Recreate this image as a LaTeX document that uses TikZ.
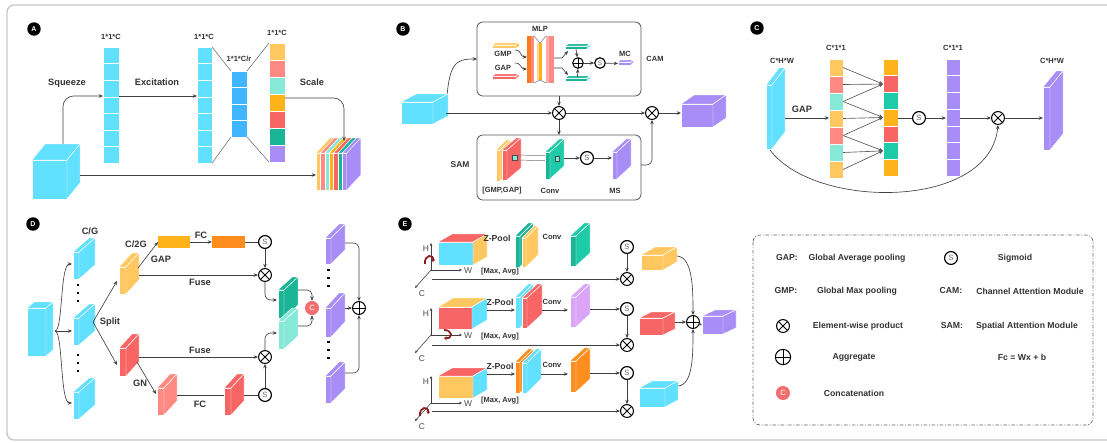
\documentclass[tikz,border=0pt]{standalone}
\usepackage{fontspec}
\setmainfont{Liberation Sans}
\usetikzlibrary{arrows.meta,calc}
\definecolor{xcy}{HTML}{62E0FF}
\definecolor{xbl}{HTML}{3FB6FF}
\definecolor{xlo}{HTML}{FFC75F}
\definecolor{xsa}{HTML}{FF8A84}
\definecolor{xmi}{HTML}{86E9D8}
\definecolor{xor}{HTML}{FFB31A}
\definecolor{xre}{HTML}{F76565}
\definecolor{xte}{HTML}{19B596}
\definecolor{xtm}{HTML}{1DCBA9}
\definecolor{xla}{HTML}{A88DF6}
\definecolor{xdor}{HTML}{FF8E1E}
\definecolor{xpu}{HTML}{DAA5F7}
\definecolor{xdr}{HTML}{8E1B1B}
\definecolor{xcc}{HTML}{F26F6F}
\definecolor{xtxt}{HTML}{333333}
\definecolor{xframe}{HTML}{C8C8C8}
\newcommand{\mycube}[9]{%
  \fill[fill=#7,draw=white,line width=0.4pt] (#2,#3) rectangle ++(#4,#5);
  \fill[fill=#8,draw=white,line width=0.4pt] (#2,#3) -- ++(#6) -- ++(#4,0) -- (#2+#4,#3) -- cycle;
  \fill[fill=#9,draw=white,line width=0.4pt] (#2+#4,#3) -- ++(#6) -- ++(0,#5) -- (#2+#4,#3+#5) -- cycle;
  \coordinate (#1-l) at (#2,#3+#5/2);
  \coordinate (#1-r) at ($(#2+#4,#3+#5/2)+0.5*(#6)$);
  \coordinate (#1-t) at ($(#2+#4/2,#3)+0.5*(#6)$);
  \coordinate (#1-b) at (#2+#4/2,#3+#5);
}
\newcommand{\colstack}[7]{%
  \foreach \cl [count=\i] in {#7} {
    \fill[fill=\cl,draw=white,line width=0.5pt] (#2,#3+\i*#5-#5) rectangle ++(#4,#5);
    \coordinate (#1-\i-l) at (#2,#3+\i*#5-#5/2);
    \coordinate (#1-\i-r) at (#2+#4,#3+\i*#5-#5/2);
  }
  \coordinate (#1-l) at (#2,#3+#6*#5/2);
  \coordinate (#1-r) at (#2+#4,#3+#6*#5/2);
  \coordinate (#1-tl) at (#2,#3);
  \coordinate (#1-tr) at (#2+#4,#3);
  \coordinate (#1-bl) at (#2,#3+#6*#5);
  \coordinate (#1-br) at (#2+#4,#3+#6*#5);
}
\tikzset{
  tA/.style={font=\bfseries\fontsize{7.9}{8.5}\selectfont, text=xtxt, inner sep=0},
  tS/.style={font=\bfseries\fontsize{6.4}{7}\selectfont, text=xtxt, inner sep=0},
  tE/.style={font=\bfseries\fontsize{7.4}{8}\selectfont, text=xtxt, inner sep=0},
  tX/.style={font=\fontsize{7.2}{8}\selectfont, text=black!70, inner sep=0},
  lab/.style={circle, fill=black, text=white, font=\bfseries\fontsize{6}{7}\selectfont, minimum size=11.5pt, inner sep=0},
  arr/.style={draw=black!75, line width=0.55pt, -{Stealth[length=3.6pt,width=3pt]}},
  ln/.style={draw=black!75, line width=0.55pt},
  gl/.style={draw=black!55, line width=0.5pt},
  ax/.style={draw=black!75, line width=0.5pt, -{Stealth[length=2.6pt,width=2.3pt]}},
  rot/.style={draw=xdr, line width=1.5pt, -{Stealth[length=2.4pt,width=3.4pt]}},
  sig/.style={circle, draw=black, line width=1pt, fill=white, minimum size=11pt, inner sep=0, font=\fontsize{6.5}{7}\selectfont, text=black!60},
  tim/.style={circle, draw=black, line width=0.9pt, fill=white, minimum size=11pt, inner sep=0,
    path picture={\draw[line width=0.8pt] (path picture bounding box.north west) -- (path picture bounding box.south east)
      (path picture bounding box.south west) -- (path picture bounding box.north east);}},
  agg/.style={circle, draw=black, line width=0.9pt, fill=white, minimum size=11pt, inner sep=0,
    path picture={\draw[line width=0.8pt] (path picture bounding box.north) -- (path picture bounding box.south)
      (path picture bounding box.west) -- (path picture bounding box.east);}},
  cat/.style={circle, fill=xcc, text=white, minimum size=12pt, inner sep=0, font=\fontsize{6.5}{7}\selectfont},
  modbox/.style={draw=black!65, line width=0.7pt, rounded corners=5pt},
}
\begin{document}
\begin{tikzpicture}[x=0.03cm,y=-0.03cm]
\useasboundingbox (0,0) rectangle (1107,442);
\fill[white] (0,0) rectangle (1107,442);
\draw[xframe, line width=1.2pt, rounded corners=6pt] (1110,5) -- (7,5) -- (7,440) -- (1110,440);

% ================= Panel A =================
\node[lab] (labA) at (34,29) {A};
\coordinate (sqs) at (63,146);
\draw[arr, rounded corners=9pt] (sqs) |- (103,96) coordinate (a1in);
\mycube{cubeA}{32}{160}{35}{39}{13,-16}{xcy}{xcy}{xcy}
\colstack{a1}{103}{47}{16}{16.6}{7}{xcy,xcy,xcy,xcy,xcy,xcy,xcy}
\colstack{a2}{197}{47}{15}{16.6}{7}{xcy,xcy,xcy,xcy,xcy,xcy,xcy}
\colstack{a3}{231}{71}{16}{16.5}{4}{xbl,xbl,xbl,xbl}
\colstack{a4}{269}{43}{16}{17}{7}{xlo,xsa,xmi,xor,xre,xte,xla}
\draw[gl] (a2-tr) -- (a3-tl) (a2-br) -- (a3-bl) (a3-tr) -- (a4-tl) (a3-br) -- (a4-bl);
\draw[arr] (a1-r |- a1in) -- (a2-l |- a1in);
% striped output cube
\foreach \cl [count=\i from 0] in {xlo,xsa,xmi,xor,xre,xte,xla} {
  \fill[fill=\cl,draw=white,line width=0.3pt] (316+\i*4.4,153) rectangle ++(4.4,37);
  \fill[fill=\cl,draw=white,line width=0.3pt] (316+\i*4.4,153) -- ++(14,-15) -- ++(4.4,0) -- ++(-14,15) -- cycle;
}
\fill[fill=xla,draw=white,line width=0.3pt] (346.8,153) -- ++(14,-15) -- ++(0,37) -- ++(-14,15) -- cycle;
\coordinate (outA-l) at (316,175);
\coordinate (outA-t) at (344,141);
\coordinate (cubeA-e) at (80,175);
\draw[arr, rounded corners=9pt] (a4-r |- 0,98) -| (outA-t);
\draw[arr] (cubeA-e) -- (outA-l);
\node[tS] at (111,37) {1*1*C};
\node[tS] at (204,37) {1*1*C};
\node[tS] at (277,33) {1*1*C};
\node[tS] at (239,59) {1*1*C/r};
\node[tA] at (67,83) {Squeeze};
\node[tA] at (157,82) {Excitation};
\node[tA] at (312,82) {Scale};

% ================= Panel B =================
\node[lab] (labB) at (403,29) {B};
\draw[modbox] (477,22) rectangle (641,96);
\draw[modbox] (477,135) rectangle (641,200);
\coordinate (cam-w) at (477,59);
\coordinate (cam-s) at (559,96);
\coordinate (sam-n) at (559,135);
\coordinate (sam-e) at (641,165);
\coordinate (inB-e) at (446,113);
\draw[arr] (inB-e) .. controls (448,62) and (455,59) .. (cam-w);
\mycube{cubeB}{401}{102}{32}{22}{15,-8}{xcy}{xcy}{xcy}
\mycube{outB}{681}{104}{32}{23}{13,-9}{xla}{xla}{xla}
\node[tim] (tB1) at (559,113) {};
\node[tim] (tB2) at (652,113) {};
\draw[arr] (inB-e) -- (tB1);
\draw[arr] (cam-s) -- (tB1);
\draw[arr] (tB1) -- (sam-n);
\draw[arr] (tB1) -- (tB2);
\draw[arr] (tB2) -- (outB-l |- tB2);
\draw[arr, rounded corners=5pt] (sam-e) -| (tB2);
% CAM inside
\mycube{gmpB}{492}{45}{24}{3}{3,-2}{xlo}{xlo}{xor}
\mycube{gapB}{492}{76}{24}{3}{3,-2}{xre}{xre}{xsa}
\node[tS] (gmpT) at (503,54) {GMP};
\node[tS] (gapT) at (503,68) {GAP};
\draw[arr] (515,50) .. controls (522,50) and (520,57) .. (527,57);
\draw[arr] (515,63) .. controls (522,63) and (520,69) .. (527,69);
\fill[xdor!85!red] (527,36) rectangle (531,83);
\fill[xsa] (531,36) rectangle (534,83);
\fill[xlo!70!white] (537,43) rectangle (539,80);
\fill[xor] (539,43) rectangle (542,80);
\fill[xsa!70!white] (546,36) rectangle (549,83);
\fill[xsa] (549,36) rectangle (554,83);
\draw[gl, line width=0.4pt] (534,36) -- (540,43) -- (546,36) (534,83) -- (540,80) -- (546,83);
\node[tS] at (540,29) {MLP};
\mycube{tcB1}{565}{46}{22}{3}{3,-2}{xte}{xte}{xmi}
\mycube{tcB2}{565}{78}{22}{3}{3,-2}{xte}{xte}{xmi}
\draw[arr] (554,58) -- (562,58) -- (568,51);
\draw[arr] (554,68) -- (562,68) -- (568,75);
\node[agg, minimum size=9pt] (aB) at (578,63) {};
\node[sig, minimum size=9pt, font=\fontsize{5.5}{6}\selectfont] (sB1) at (600,63) {S};
\draw[arr] (tcB1-b) -- (aB);
\draw[arr] (tcB2-t) -- (aB);
\draw[arr] (aB) -- (sB1);
\mycube{mcB}{618}{62}{13}{3}{2,-2}{xla}{xla}{xla}
\draw[arr] (sB1) -- (mcB-l);
\node[tS] at (625,54) {MC};
\node[tS] at (655,59) {CAM};
% SAM inside
\mycube{s1}{496}{150}{4}{31}{10,-10}{xlo}{xlo}{xlo}
\mycube{s2}{502}{150}{5}{30}{14,-12}{xre}{xre}{xre}
\fill[xmi,draw=black!70,line width=0.4pt] (512,155) rectangle ++(5,5);
\draw[gl, line width=0.4pt] (517,155) -- (555,156) (517,160) -- (555,161);
\mycube{convB}{545}{152}{5}{27}{14,-13}{xte}{xtm}{xtm}
\fill[xmi,draw=black!70,line width=0.4pt] (555,156) rectangle ++(4,5);
\node[sig] (sB2) at (587,158) {S};
\mycube{msB}{612}{152}{5}{27}{14,-13}{xla}{xla}{xla}
\draw[arr] (564,158) -- (sB2);
\draw[arr] (sB2) -- (msB-l |- sB2);
\node[tA, font=\bfseries\fontsize{7.2}{8}\selectfont] at (460,165) {SAM};
\node[tS] at (502,191) {[GMP,GAP]};
\node[tS] at (550,191) {Conv};
\node[tS] at (615,191) {MS};

% ================= Panel C =================
\node[lab] (labC) at (757,28) {C};
\mycube{inC}{766}{85}{6}{64}{13,-17}{xcy}{xcy}{xcy}
\colstack{c1}{829}{59}{14}{17}{7}{xlo,xsa,xmi,xlo,xsa,xmi,xlo}
\colstack{c2}{883}{59}{15}{16.7}{7}{xor,xre,xtm,xor,xre,xtm,xor}
\colstack{c3}{946}{59}{14}{16.7}{7}{xla,xla,xla,xla,xla,xla,xla}
\mycube{outC}{1043}{87}{7}{63}{13,-16}{xla}{xla}{xla}
\foreach \s/\t in {1/2,2/2,3/2,3/4,4/4,5/4,5/6,6/6,7/6}
  \draw[arr, draw=black!65] (c1-\s-r) -- (c2-\t-l);
\draw[arr] (785,118) -- (c1-l |- 0,118);
\node[sig] (sC) at (919,118) {S};
\node[tim] (tC) at (998,118) {};
\draw[ln] (c2-r |- sC) -- (sC);
\draw[arr] (sC) -- (c3-l |- sC);
\draw[arr] (c3-r |- tC) -- (tC);
\draw[arr] (tC) -- (1043,118);
\coordinate (inC-bot) at (770,150);
\draw[arr] (inC-bot) .. controls (815,210) and (990,210) .. (tC.south);
\node[tS] at (782,61) {C*H*W};
\node[tA] at (802,109) {GAP};
\node[tS] at (836,48) {C*1*1};
\node[tS] at (953,48) {C*1*1};
\node[tS] at (1052,61) {C*H*W};

% ================= Panel D =================
\node[lab] (labD) at (33,224) {D};
\mycube{inD}{27}{308}{19}{48}{7,-6}{xcy}{xcy}{xcy}
\coordinate (brD) at (55,331);
\mycube{g1}{73}{252}{6}{27}{16,-14}{xcy}{xcy}{xcy}
\mycube{g2}{73}{318}{6}{27}{16,-14}{xcy}{xcy}{xcy}
\mycube{g3}{73}{392}{6}{27}{16,-14}{xcy}{xcy}{xcy}
\draw[arr] (brD) .. controls (63,331) and (60,264) .. (72,264);
\draw[arr] (brD) -- (72,331);
\draw[arr] (brD) .. controls (63,331) and (60,403) .. (72,403);
\foreach \yy in {285,293,301,355,363,371} \fill[black] (76.5,\yy-1.2) rectangle ++(2.5,2.5);
\mycube{yD}{119}{267}{7}{27}{13,-14}{xlo}{xlo}{xlo}
\mycube{rD}{119}{348}{7}{28}{13,-14}{xre}{xre}{xre}
\draw[arr] (93,322) -- (117,281);
\draw[arr] (93,322) -- (117,365);
\fill[xor] (158,236) rectangle (190,248);
\fill[xdor] (212,236) rectangle (245,248);
\coordinate (fc1-w) at (158,242);
\coordinate (fc1-e) at (190,242);
\coordinate (fc2-w) at (212,242);
\coordinate (fc2-e) at (245,242);
\draw[arr] (138,268) -- (fc1-w);
\draw[arr] (fc1-e) -- (fc2-w);
\node[sig] (sD1) at (265,242) {S};
\node[tim] (tD1) at (265,275) {};
\draw[ln] (fc2-e) -- (sD1);
\draw[arr] (sD1) -- (tD1);
\draw[arr] (139,275) -- (tD1);
\mycube{dtD}{278}{290}{6}{28}{14,-13}{xte}{xte}{xte}
\mycube{ltD}{278}{321}{6}{28}{14,-13}{xmi}{xmi}{xmi}
\draw[arr, rounded corners=5pt] (tD1.south) |- (277,300);
\node[cat] (cD) at (312,308) {C};
\draw[arr, rounded corners=4pt] (298,290) -| (cD.north);
\draw[arr, rounded corners=4pt] (298,326) -| (cD.south);
\node[tim] (tD2) at (265,357) {};
\draw[arr] (139,357) -- (tD2);
\draw[arr, rounded corners=5pt] (tD2.north) |- (277,333);
\mycube{saD}{157}{388}{7}{27}{13,-14}{xsa}{xsa}{xsa}
\mycube{r2D}{224}{388}{7}{27}{13,-14}{xre}{xre}{xre}
\draw[arr] (137,362) -- (156,394);
\draw[ln] (177,395) -- (224,395);
\node[sig] (sD2) at (265,395) {S};
\draw[ln] (244,395) -- (sD2);
\draw[arr] (sD2) -- (tD2);
\mycube{l1D}{325}{238}{6}{26}{14,-14}{xla}{xla}{xla}
\mycube{l2D}{325}{308}{6}{29}{14,-15}{xla}{xla}{xla}
\mycube{l3D}{325}{376}{6}{27}{14,-14}{xla}{xla}{xla}
\foreach \yy in {270,278,286,342,350,358} \fill[black] (327,\yy-1.2) rectangle ++(2.5,2.5);
\node[agg] (aD) at (359,308) {};
\draw[arr, rounded corners=5pt] (345,243) -| (aD.north);
\draw[arr] (345,308) -- (aD.west);
\draw[arr, rounded corners=5pt] (345,373) -| (aD.south);
\node[tA] at (90,231) {C/G};
\node[tA] at (136,244) {C/2G};
\node[tA] at (161,259) {GAP};
\node[tA] at (201,235) {FC};
\node[tA] at (200,282) {Fuse};
\node[tA] at (110,322) {Split};
\node[tA] at (200,350) {Fuse};
\node[tA] at (140,383) {GN};
\node[tA] at (200,404) {FC};

% ================= Panel E =================
\node[lab] (labE) at (405,224) {E};
\mycube{e1}{438}{242}{35}{23}{14,-8}{xcy}{xre}{xlo}
\mycube{e2}{438}{307}{34}{22}{15,-9}{xre}{xlo}{xcy}
\mycube{e3}{438}{376}{35}{22}{14,-8}{xlo}{xre}{xcy}
\foreach \oy/\n in {270/1,335/2,403/3} {
  \coordinate (ax\n) at (431,\oy);
  \draw[ax] (ax\n) -- ++(0,-27);
  \draw[ax] (ax\n) -- ++(31,0);
  \draw[ax] (ax\n) -- ++(-16,18);
  \node[tX] at (426,\oy-21) {H};
  \node[tX] at (468,\oy+1) {W};
  \node[tX] at (422,\oy+24) {C};
}
\draw[rot] (425,264) .. controls (424,254) and (434,254) .. (433,262);
\draw[rot] (444,330) .. controls (453,330) and (453,339) .. (444,338);
\draw[rot] (420,416) .. controls (419,406) and (429,406) .. (428,414);
% z-pool stacks
\mycube{z1a}{515}{236}{5}{31}{13,-13}{xte}{xte}{xte}
\mycube{z1b}{522}{238}{4}{29}{12,-12}{xlo}{xlo}{xlo}
\mycube{z2a}{515}{297}{5}{31}{13,-13}{xcy}{xcy}{xcy}
\mycube{z2b}{522}{298}{5}{30}{15,-14}{xre}{xre}{xre}
\mycube{z3a}{515}{362}{5}{31}{13,-13}{xdor}{xdor}{xdor}
\mycube{z3b}{522}{363}{5}{30}{14,-14}{xcy}{xcy}{xcy}
\mycube{v1}{570}{236}{6}{30}{14,-13}{xte}{xtm}{xtm}
\mycube{v2}{570}{297}{6}{30}{14,-13}{xpu}{xpu}{xpu}
\mycube{v3}{570}{361}{6}{31}{14,-13}{xdor}{xdor}{xdor}
\draw[arr] (487,310) -- (515,310);
\draw[arr] (542,310) -- (568,310);
\draw[arr] (487,374) -- (515,374);
\draw[arr] (541,374) -- (568,374);
\node[sig] (sE1) at (627,247) {S};
\node[sig] (sE2) at (627,309) {S};
\node[sig] (sE3) at (627,373) {S};
\node[tim] (tE1) at (627,279) {};
\node[tim] (tE2) at (627,345) {};
\node[tim] (tE3) at (627,411) {};
\draw[arr] (590,309) -- (sE2);
\draw[arr] (590,373) -- (sE3);
\draw[arr] (sE1) -- (tE1);
\draw[arr] (sE2) -- (tE2);
\draw[arr] (sE3) -- (tE3);
\draw[arr] (432,279) -- (tE1);
\draw[arr] (432,345) -- (tE2);
\draw[arr] (432,411) -- (tE3);
\mycube{ry}{641}{255}{22}{15}{14,-8}{xlo}{xlo}{xlo}
\mycube{rr}{639}{318}{24}{17}{12,-6}{xre}{xre}{xre}
\mycube{rc}{639}{388}{26}{19}{13,-7}{xcy}{xcy}{xcy}
\node[agg] (aE) at (693,322) {};
\draw[arr] (677,256) .. controls (693,257) and (693,290) .. (aE.north);
\draw[arr] (675,322) -- (aE.west);
\draw[arr] (678,386) .. controls (693,385) and (693,355) .. (aE.south);
\mycube{oE}{702}{316}{21}{18}{13,-6}{xla}{xla}{xla}
\draw[arr] (aE) -- (oE-l);
\node[tE] at (497,238) {Z-Pool};
\node[tE] at (500,302) {Z-Pool};
\node[tE] at (500,366) {Z-Pool};
\node[tS] at (500,272) {[Max, Avg]};
\node[tS] at (500,337) {[Max, Avg]};
\node[tS] at (500,401) {[Max, Avg]};
\node[tS] at (552,237) {Conv};
\node[tS] at (552,302) {Conv};
\node[tS] at (552,365) {Conv};

% ================= Legend =================
\draw[black!60, line width=0.6pt, dash pattern=on 3pt off 1.5pt on 0.8pt off 1.5pt, rounded corners=6pt] (753,235) rectangle (1093,425);
\node[tE] at (787,258) {GAP:};
\node[tE] at (857,258) {Global Average pooling};
\node[sig] (lgS) at (951,258) {S};
\node[tE] at (1015,258) {Sigmoid};
\node[tE] at (786,291) {GMP:};
\node[tE] at (857,291) {Global Max pooling};
\node[tE] at (951,291) {CAM:};
\node[tE] at (1030,291) {Channel Attention Module};
\node[tim] (lgT) at (783,326) {};
\node[tE] at (858,326) {Element-wise product};
\node[tE] at (952,326) {SAM:};
\node[tE] at (1027,326) {Spatial Attention Module};
\node[agg, minimum size=13pt] (lgA) at (783,357) {};
\node[tE] at (854,357) {Aggregate};
\node[tE] at (1022,357) {Fc = Wx + b};
\node[cat] (lgC) at (783,393) {C};
\node[tE] at (854,393) {Concatenation};
\end{tikzpicture}
\end{document}
